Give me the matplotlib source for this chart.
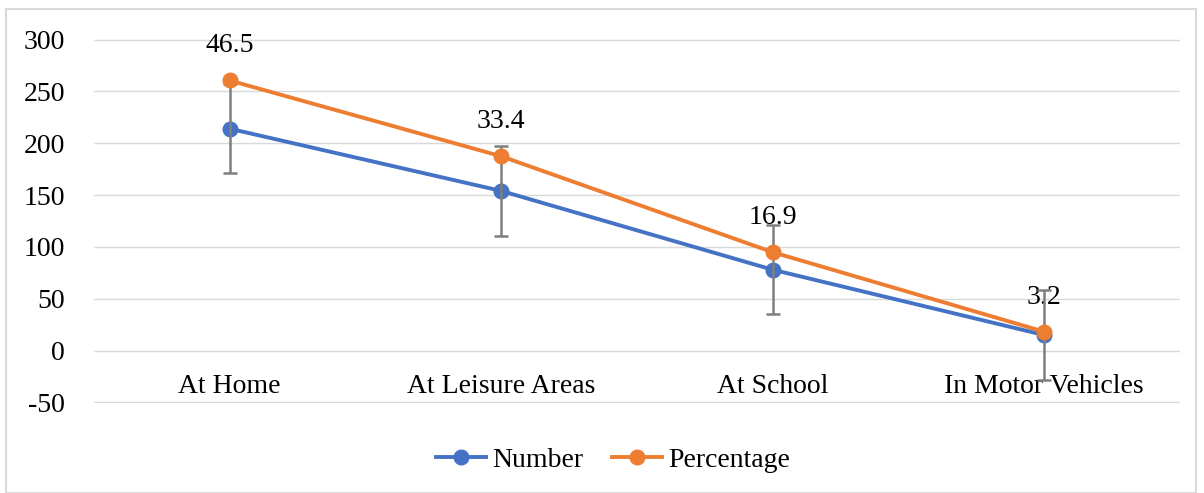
import matplotlib.pyplot as plt
import numpy as np
from matplotlib.patches import Rectangle

# Chart data
places = ['At Home', 'At Leisure Areas', 'At School', 'In Motor Vehicles']
number = [214, 154, 78, 15]
percentage = [46.5, 33.4, 16.9, 3.2]
number_err = [43, 43, 43, 43]

blue = '#4472C4'
orange = '#ED7D31'
plt.rcParams['font.family'] = ['Liberation Serif', 'DejaVu Serif']
plt.rcParams['axes.unicode_minus'] = False
fs = 20

fig = plt.figure(figsize=(12.04, 4.93), dpi=100)
ax = fig.add_axes([94 / 1204, 1 - 403 / 493, (1180 - 94) / 1204, (403 - 39) / 493])

x = np.arange(len(places))
# stacked line chart: percentage sits on top of number
stacked = np.array(number) + np.array(percentage)

ax.plot(x, number, color=blue, lw=2.8, marker='o', ms=10.5, label='Number', zorder=3)
ax.errorbar(x, number, yerr=number_err, fmt='none', ecolor='#7F7F7F', elinewidth=1.8,
            capsize=5, capthick=1.8, zorder=4)
ax.plot(x, stacked, color=orange, lw=2.8, marker='o', ms=10.5, label='Percentage', zorder=5)

for xi, yi, p in zip(x, stacked, percentage):
    ax.annotate(f'{p}', xy=(xi, yi), xytext=(0, 25), textcoords='offset points',
                ha='center', va='center', fontsize=fs, zorder=2)

ax.set_xlim(-0.5, 3.5)
ax.set_ylim(-50.5, 300.5)
ax.set_yticks(np.arange(-50, 301, 50))
ax.yaxis.grid(True, color='#D9D9D9', lw=1)
ax.set_axisbelow(True)
for s in ax.spines.values():
    s.set_visible(False)
ax.spines['bottom'].set_position(('data', 0))
ax.set_xticks(x)
ax.set_xticklabels(places)
ax.tick_params(axis='y', length=0, labelsize=fs, pad=21)
ax.tick_params(axis='x', length=0, labelsize=fs, pad=17)

fig.legend(loc='center', bbox_to_anchor=(613 / 1204, 1 - 460 / 493), ncol=2, frameon=False,
           fontsize=fs, handlelength=1.8, columnspacing=1.0, handletextpad=0.25)

fig.patches.append(Rectangle((6 / 1204, 0.0), 1190 / 1204, 1 - 9 / 493,
                             transform=fig.transFigure, fill=False, ec='#D9D9D9', lw=1.5))

fig.savefig('out.png', dpi=100)
